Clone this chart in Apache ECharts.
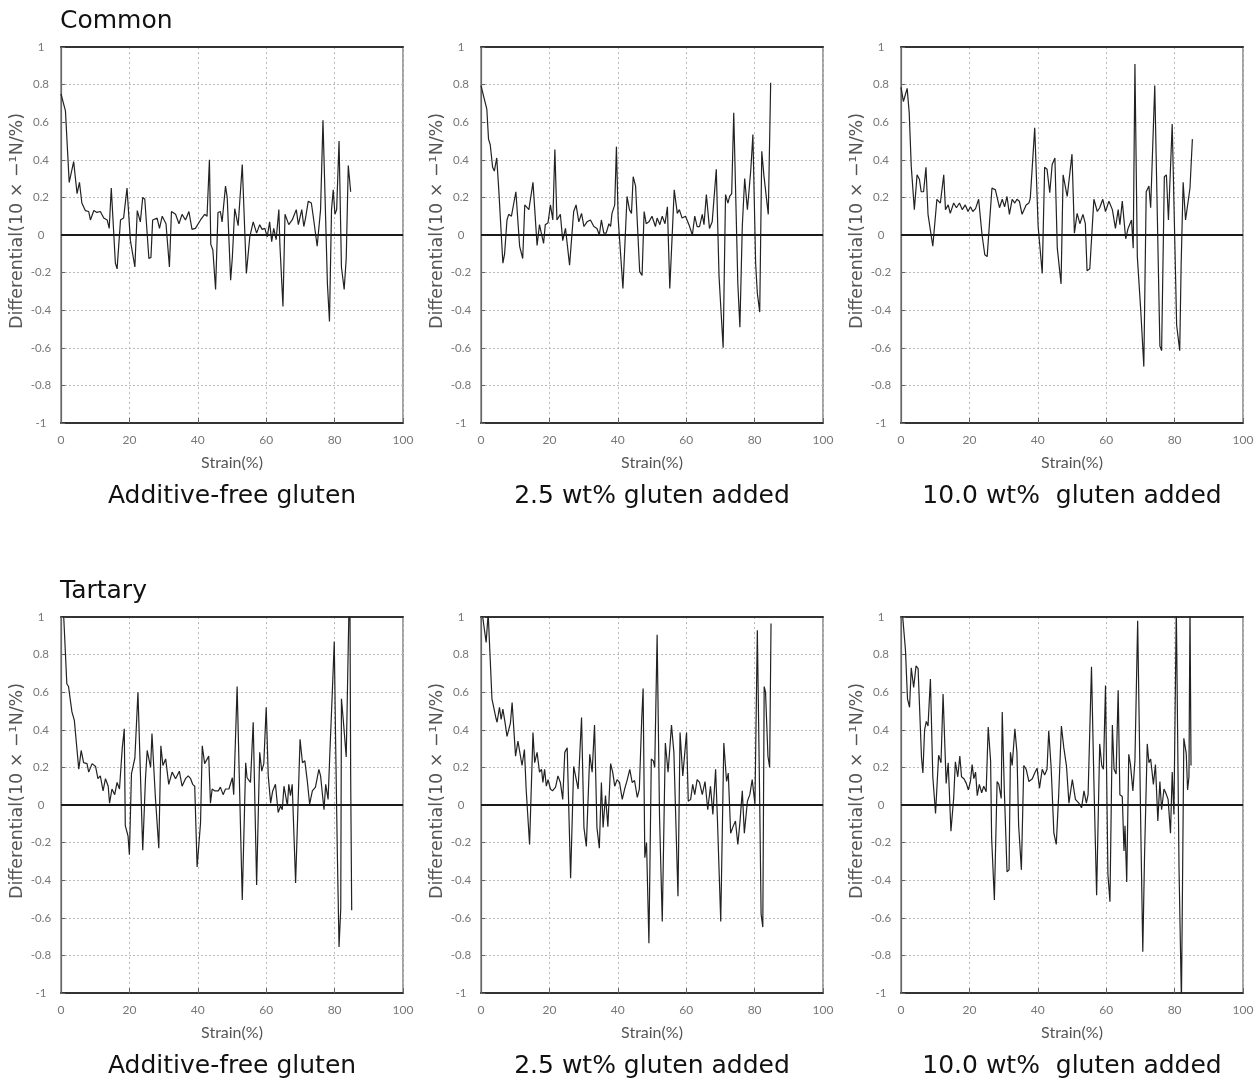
<!DOCTYPE html>
<html>
<head>
<meta charset="utf-8">
<script src="https://cdn.jsdelivr.net/npm/echarts@6/dist/echarts.min.js"></script>
<style>
html,body{margin:0;padding:0;background:#fff;}
#chart{width:1260px;height:1086px;}
</style>
</head>
<body>
<div id="chart"></div>
<script>
// ---- Data (strain %, differential) ----
const commonFree = [[0,0.75],[1.3,0.66],[2.4,0.28],[3.7,0.39],[4.0,0.39],[4.7,0.22],[5.4,0.28],[6.1,0.17],[7.1,0.13],[8.1,0.125],[8.6,0.08],[9.6,0.13],[10.5,0.12],[11.5,0.125],[12.5,0.09],[13.5,0.08],[14.1,0.035],[14.7,0.25],[15.9,-0.15],[16.4,-0.18],[17.4,0.08],[18.3,0.09],[19.3,0.25],[20.3,-0.03],[21.6,-0.17],[22.3,0.13],[23.2,0.07],[23.9,0.2],[24.5,0.19],[25.7,-0.125],[26.3,-0.12],[26.8,0.08],[28.1,0.09],[28.8,0.035],[29.6,0.1],[30.7,0.06],[31.7,-0.17],[32.3,0.125],[33.5,0.11],[34.5,0.06],[35.4,0.11],[36.4,0.08],[37.4,0.125],[38.3,0.03],[39.3,0.035],[40.8,0.08],[42.0,0.11],[42.7,0.1],[43.4,0.4],[43.8,-0.05],[44.4,-0.08],[45.2,-0.29],[45.9,0.12],[46.6,0.125],[47.1,0.07],[48.1,0.26],[48.6,0.2],[49.6,-0.24],[50.1,-0.12],[50.8,0.14],[51.8,0.05],[52.3,0.045],[53.0,0.375],[54.2,-0.205],[55.2,-0.01],[56.2,0.07],[57.2,0.01],[58.1,0.055],[58.8,0.03],[59.6,0.035],[60.3,-0.01],[61.0,0.07],[61.6,-0.035],[62.2,0.035],[62.9,-0.025],[63.7,0.135],[64.0,-0.05],[64.9,-0.38],[65.5,0.11],[66.6,0.055],[67.6,0.08],[68.1,0.09],[68.8,0.135],[69.4,0.055],[70.4,0.135],[71.0,0.045],[71.5,0.09],[72.3,0.18],[73.2,0.17],[73.9,0.08],[74.9,-0.06],[75.9,0.135],[76.6,0.61],[77.9,-0.26],[78.5,-0.46],[79.1,0.135],[79.6,0.24],[80.1,0.11],[80.6,0.135],[81.3,0.5],[82.0,-0.17],[82.8,-0.29],[83.4,-0.125],[84.0,0.37],[84.7,0.23]];

const common25 = [[0,0.795],[1.7,0.67],[2.2,0.51],[2.7,0.48],[3.4,0.36],[3.9,0.34],[4.6,0.41],[5.2,0.24],[6.4,-0.15],[6.9,-0.1],[7.6,0.08],[8.1,0.11],[8.9,0.1],[10.2,0.23],[11.3,-0.06],[12.2,-0.125],[12.8,0.16],[14.0,0.135],[15.2,0.28],[16.4,-0.055],[17.1,0.055],[18.3,-0.045],[18.8,0.055],[19.6,0.065],[20.3,0.16],[21.0,0.08],[21.6,0.455],[22.2,0.08],[23.2,0.11],[23.9,-0.03],[24.7,0.035],[25.9,-0.16],[27.1,0.125],[27.8,0.16],[28.6,0.07],[29.4,0.115],[30.1,0.045],[31.0,0.07],[32.0,0.08],[33.0,0.045],[33.9,0.035],[34.6,0.0],[35.2,0.08],[35.9,0.01],[36.6,0.01],[37.4,0.06],[37.9,0.045],[38.3,0.115],[39.1,0.16],[39.6,0.47],[40.1,0.09],[41.5,-0.285],[42.7,0.205],[43.4,0.135],[44.0,0.115],[44.5,0.31],[45.2,0.26],[46.4,-0.195],[47.1,-0.215],[47.7,0.125],[48.3,0.06],[49.1,0.07],[50.0,0.1],[51.0,0.045],[51.5,0.09],[52.3,0.055],[53.0,0.1],[53.8,0.06],[54.5,0.15],[55.2,-0.285],[56.5,0.24],[57.4,0.115],[58.0,0.135],[58.8,0.09],[59.8,0.1],[60.8,0.055],[61.8,0.0],[62.5,0.1],[63.2,0.045],[63.9,0.045],[64.7,0.11],[65.2,0.055],[65.9,0.215],[66.8,0.035],[67.6,0.07],[68.8,0.35],[69.6,-0.22],[70.1,-0.215],[70.8,-0.6],[71.5,0.215],[72.2,0.17],[72.7,0.205],[73.3,0.22],[73.9,0.65],[75.1,-0.26],[75.7,-0.49],[76.4,0.045],[77.1,0.3],[77.9,0.135],[78.4,0.125],[78.9,0.35],[79.5,0.535],[80.3,-0.15],[80.8,-0.31],[81.5,-0.41],[82.1,0.445],[82.7,0.32],[84.0,0.11],[84.7,0.81]];

const common100 = [[0,0.785],[0.7,0.71],[1.8,0.78],[2.4,0.65],[3.0,0.365],[3.9,0.135],[4.7,0.32],[5.4,0.295],[5.9,0.23],[6.6,0.23],[7.3,0.36],[7.9,0.11],[9.3,-0.06],[10.5,0.19],[11.5,0.17],[12.5,0.32],[13.0,0.135],[13.8,0.16],[14.4,0.115],[15.4,0.17],[16.2,0.145],[17.1,0.17],[17.9,0.135],[18.8,0.16],[19.6,0.125],[20.3,0.15],[21.0,0.125],[21.8,0.14],[22.7,0.19],[23.7,0.0],[24.5,-0.105],[25.2,-0.115],[25.9,0.07],[26.6,0.25],[27.6,0.24],[28.8,0.145],[29.6,0.19],[30.3,0.15],[31.0,0.205],[31.7,0.11],[32.5,0.19],[33.3,0.17],[33.9,0.19],[34.6,0.18],[35.4,0.11],[36.6,0.16],[37.4,0.17],[37.8,0.195],[39.1,0.57],[40.1,0.045],[41.3,-0.205],[42.0,0.36],[42.7,0.35],[43.5,0.225],[44.2,0.375],[45.0,0.41],[45.7,-0.07],[46.8,-0.26],[47.4,0.32],[48.6,0.205],[50.0,0.43],[50.7,0.01],[51.5,0.115],[52.3,0.06],[53.2,0.11],[53.9,0.06],[54.4,-0.19],[55.2,-0.18],[56.4,0.19],[57.4,0.125],[58.1,0.145],[59.0,0.19],[59.8,0.125],[60.8,0.18],[61.8,0.135],[62.7,0.035],[63.5,0.135],[64.0,0.055],[64.7,0.18],[65.7,-0.02],[66.4,0.035],[67.4,0.08],[67.9,-0.07],[68.4,0.91],[69.1,-0.115],[70.1,-0.4],[71.0,-0.7],[71.7,0.23],[72.5,0.26],[73.0,0.145],[74.2,0.795],[75.7,-0.59],[76.2,-0.615],[77.0,0.31],[77.6,0.32],[78.2,0.08],[78.6,0.07],[79.3,0.59],[80.6,-0.48],[81.5,-0.615],[81.9,-0.17],[82.5,0.28],[83.2,0.08],[84.5,0.25],[85.2,0.51]];

const tartaryFree = [[0.2,1.02],[0.8,1.0],[1.7,0.645],[2.2,0.63],[3.2,0.495],[3.9,0.45],[4.4,0.46],[5.2,0.19],[5.9,0.29],[6.6,0.225],[7.6,0.22],[8.1,0.175],[9.1,0.22],[10.1,0.205],[10.8,0.14],[11.5,0.155],[12.3,0.075],[13.0,0.14],[13.8,0.1],[14.2,0.01],[14.9,0.085],[15.7,0.055],[16.4,0.12],[17.1,0.085],[17.9,0.3],[18.5,0.405],[18.8,-0.11],[19.6,-0.165],[20.0,-0.265],[20.6,0.165],[21.6,0.25],[22.0,0.245],[22.5,0.6],[23.9,-0.24],[24.7,0.14],[25.2,0.29],[26.2,0.2],[26.6,0.38],[27.1,0.385],[27.6,0.04],[28.6,-0.23],[29.2,0.315],[29.8,0.21],[30.6,0.245],[31.5,0.11],[32.5,0.175],[33.5,0.14],[34.6,0.18],[35.4,0.1],[36.4,0.14],[37.2,0.155],[37.9,0.14],[38.5,0.11],[39.1,0.1],[39.8,-0.33],[40.8,-0.095],[41.3,0.315],[42.0,0.22],[42.5,0.21],[43.2,0.26],[43.7,0.01],[44.2,0.085],[45.0,0.075],[46.0,0.075],[46.6,0.095],[47.4,0.055],[48.1,0.085],[49.1,0.085],[50.1,0.145],[50.5,0.055],[51.5,0.63],[53.0,-0.505],[54.0,0.225],[54.4,0.145],[55.4,0.12],[56.2,0.44],[57.2,-0.425],[57.6,-0.415],[58.1,0.28],[58.7,0.18],[59.3,0.22],[60.0,0.52],[60.6,0.155],[61.3,0.01],[61.9,0.075],[62.7,0.11],[63.5,-0.04],[64.2,-0.005],[64.7,-0.025],[65.2,0.1],[65.7,0.095],[66.2,-0.005],[66.6,0.11],[67.1,0.05],[67.6,0.11],[68.6,-0.415],[69.9,0.35],[70.6,0.225],[71.3,0.235],[72.0,0.13],[72.7,0.005],[73.5,0.075],[74.4,0.095],[75.4,0.19],[75.9,0.155],[76.9,-0.025],[77.4,0.11],[78.1,0.03],[78.6,0.27],[79.3,0.585],[79.9,0.87],[80.3,0.335],[80.8,-0.255],[81.3,-0.755],[81.8,-0.55],[82.0,0.565],[82.5,0.46],[83.4,0.255],[84.2,1.05],[84.5,1.02],[84.7,0.155],[85.0,-0.56]];

const tartary25 = [[0,1.02],[0.5,1.0],[1.5,0.865],[2.1,1.02],[3.2,0.565],[3.7,0.555],[4.4,0.46],[4.7,0.44],[5.4,0.52],[5.9,0.455],[6.4,0.51],[7.1,0.43],[7.6,0.365],[8.6,0.435],[9.1,0.545],[10.1,0.26],[10.8,0.34],[11.3,0.34],[12.0,0.21],[12.7,0.295],[13.2,0.085],[14.2,-0.21],[15.2,0.385],[15.7,0.225],[16.4,0.28],[17.1,0.175],[17.7,0.19],[18.1,0.12],[18.6,0.19],[19.1,0.1],[19.6,0.135],[20.3,0.085],[20.9,0.075],[21.8,0.095],[22.5,0.155],[23.2,0.12],[23.9,0.03],[24.5,0.28],[25.2,0.305],[26.2,-0.39],[27.1,0.205],[27.6,0.195],[28.4,0.085],[29.4,0.465],[30.1,-0.12],[30.8,-0.22],[31.2,-0.215],[31.8,0.27],[32.5,0.175],[33.2,0.425],[33.9,-0.12],[34.6,-0.23],[35.2,0.12],[35.7,-0.12],[36.4,0.05],[37.1,-0.115],[37.9,0.22],[38.5,0.175],[39.1,0.1],[39.8,0.135],[40.5,0.12],[41.3,0.03],[42.0,0.085],[42.7,0.13],[43.5,0.19],[44.2,0.12],[44.9,0.13],[45.7,0.04],[46.3,0.085],[47.0,0.46],[47.4,0.62],[47.9,-0.28],[48.4,-0.2],[49.1,-0.735],[49.8,0.245],[50.4,0.235],[50.8,0.2],[51.5,0.905],[52.2,-0.06],[53.0,-0.62],[53.9,0.33],[54.7,0.175],[55.7,0.425],[56.4,0.28],[57.6,-0.485],[58.2,0.385],[59.0,0.155],[60.1,0.385],[60.6,0.02],[61.3,0.03],[61.9,0.11],[62.5,0.055],[63.2,0.135],[63.9,0.12],[64.7,0.055],[65.5,0.125],[66.3,-0.025],[67.1,0.1],[67.8,-0.05],[68.6,0.19],[69.1,-0.06],[70.1,-0.62],[71.0,0.33],[71.8,0.125],[72.3,0.17],[73.0,-0.15],[73.7,-0.115],[74.4,-0.085],[75.1,-0.21],[75.7,-0.095],[76.4,0.075],[77.0,-0.15],[77.9,0.02],[78.6,0.055],[79.3,0.135],[80.1,0.005],[80.8,0.93],[81.5,0.01],[81.9,-0.58],[82.4,-0.65],[82.8,0.63],[83.2,0.6],[83.9,0.26],[84.4,0.2],[84.8,0.965]];

const tartary100 = [[0,1.02],[0.5,1.0],[1.3,0.825],[1.9,0.565],[2.5,0.52],[3.0,0.73],[3.7,0.625],[4.4,0.74],[5.0,0.725],[6.0,0.25],[6.4,0.17],[6.9,0.4],[7.4,0.445],[7.9,0.42],[8.6,0.67],[9.3,0.15],[10.1,-0.045],[10.5,-0.055],[11.0,0.265],[11.7,0.225],[12.3,0.59],[13.2,0.115],[13.8,0.225],[14.6,-0.14],[15.4,0.035],[15.9,0.23],[16.6,0.15],[17.2,0.26],[17.7,0.15],[18.4,0.14],[19.1,0.115],[19.7,0.08],[20.3,0.125],[20.8,0.215],[21.3,0.14],[21.8,0.175],[22.3,0.05],[22.9,0.11],[23.6,0.065],[24.2,0.1],[24.9,0.07],[25.5,0.415],[26.2,0.235],[26.5,-0.175],[27.3,-0.505],[28.1,0.125],[28.6,0.11],[29.3,0.035],[29.6,0.495],[30.2,0.085],[31.0,-0.355],[31.6,-0.345],[32.0,0.28],[32.5,0.21],[33.3,0.405],[33.9,0.28],[34.4,-0.11],[35.2,-0.345],[35.9,0.21],[36.6,0.19],[37.4,0.125],[38.4,0.14],[39.1,0.17],[39.8,0.195],[40.5,0.09],[41.3,0.19],[42.0,0.16],[42.7,0.19],[43.2,0.395],[43.9,0.2],[44.7,-0.15],[45.4,-0.21],[46.1,0.05],[46.9,0.42],[47.6,0.305],[48.4,0.205],[49.1,0.01],[50.1,0.135],[51.0,0.03],[52.0,0.01],[52.8,-0.015],[53.5,0.075],[54.2,0.01],[54.7,0.055],[55.7,0.735],[56.4,0.125],[57.2,-0.48],[58.1,0.325],[58.7,0.21],[59.2,0.19],[59.8,0.635],[60.5,-0.37],[61.1,-0.515],[61.8,0.425],[62.3,0.19],[62.9,0.165],[63.5,0.61],[64.0,0.055],[64.7,0.045],[65.2,-0.245],[65.5,-0.11],[66.0,-0.41],[66.6,0.27],[67.1,0.215],[67.8,0.075],[68.4,0.235],[69.2,0.98],[70.1,-0.11],[70.7,-0.78],[71.2,-0.28],[72.0,0.325],[72.5,0.225],[73.0,0.245],[73.8,0.11],[74.4,0.215],[75.1,-0.085],[75.7,0.125],[76.2,-0.025],[76.9,0.085],[77.4,0.065],[78.1,0.03],[78.8,-0.15],[79.3,0.175],[79.8,-0.05],[80.5,1.05],[80.9,1.05],[81.3,-0.345],[82.0,-1.05],[82.2,-1.05],[82.7,0.355],[83.4,0.275],[83.8,0.08],[84.2,0.15],[84.5,1.05],[84.8,0.21]];

const rowTitles = ['Common', 'Tartary'];
const captions = ['Additive-free gluten', '2.5 wt% gluten added', '10.0 wt%  gluten added'];
const seriesData = [commonFree, common25, common100, tartaryFree, tartary25, tartary100];
const xTicks = [0, 20, 40, 60, 80, 100];
const yMin = -1, yMax = 1, yStep = 0.2;
const xAxisName = 'Strain(%)';
const yAxisName = 'Differential(10 × −¹N/%)';

// ---- Layout ----
const lefts = [61, 481, 901];
const tops = [47, 617];
const W = 342, H = 376;
const FONT = 'Lato, "Noto Sans", "DejaVu Sans", sans-serif';
const BIG = '"DejaVu Sans", Lato, sans-serif';

const grids = [], xAxes = [], yAxes = [], series = [], graphics = [];
let k = 0;
for (let r = 0; r < 2; r++) {
  for (let c = 0; c < 3; c++) {
    grids.push({left: lefts[c], top: tops[r], width: W, height: H,
      show: true, borderColor: '#666', borderWidth: 1.2, backgroundColor: '#fff'});
    const gi = k;
    xAxes.push({
      gridIndex: gi, type: 'value', min: xTicks[0], max: xTicks[xTicks.length - 1], interval: 20,
      position: 'bottom',
      name: xAxisName, nameLocation: 'middle', nameGap: 32,
      nameTextStyle: {fontFamily: FONT, fontSize: 16, color: '#555'},
      axisLine: {show: true, onZero: false, lineStyle: {color: '#333', width: 2}},
      axisTick: {show: true, inside: true, length: 5, lineStyle: {color: '#666'}},
      axisLabel: {color: '#777', fontSize: 12, fontFamily: FONT, margin: 11},
      splitLine: {show: true, lineStyle: {type: [2, 3], color: '#bbb', width: 1}}
    });
    xAxes.push({
      gridIndex: gi, type: 'value', min: 0, max: 100, interval: 20, position: 'top',
      axisLine: {show: true, onZero: false, lineStyle: {color: '#333', width: 2}},
      axisTick: {show: false}, axisLabel: {show: false}, splitLine: {show: false}
    });
    yAxes.push({
      gridIndex: gi, type: 'value', min: yMin, max: yMax, interval: yStep,
      name: yAxisName, nameLocation: 'middle', nameGap: 32,
      nameTextStyle: {fontFamily: BIG, fontSize: 17.5, color: '#555', padding: [0, 0, 0, 28]},
      axisLine: {show: true, lineStyle: {color: '#666', width: 1.2}},
      axisTick: {show: true, inside: true, length: 4, lineStyle: {color: '#666'}},
      axisLabel: {color: '#777', fontSize: 11.5, fontFamily: FONT, align: 'center', margin: 20,
        formatter: v => String(+v.toFixed(1))},
      splitLine: {show: true, lineStyle: {type: [2, 2], color: '#bbb', width: 1}}
    });
    series.push({
      type: 'line', xAxisIndex: 2 * gi, yAxisIndex: gi, data: seriesData[gi],
      showSymbol: false, symbol: 'none', clip: true, animation: false,
      lineStyle: {color: '#222', width: 1.2},
      markLine: {silent: true, symbol: 'none', label: {show: false}, animation: false,
        lineStyle: {color: '#1a1a1a', width: 2, type: 'solid'}, data: [{yAxis: 0}]}
    });
    graphics.push({type: 'text', x: lefts[c] + W / 2, y: tops[r] + H + 61,
      style: {text: captions[c], font: '25px ' + BIG, fill: '#111', textAlign: 'center'}});
    k++;
  }
  graphics.push({type: 'text', x: 60, y: tops[r] - 38,
    style: {text: rowTitles[r], font: '25px ' + BIG, fill: '#111'}});
}

const chart = echarts.init(document.getElementById('chart'), null, {renderer: 'canvas'});
chart.setOption({
  animation: false,
  backgroundColor: '#fff',
  grid: grids, xAxis: xAxes, yAxis: yAxes, series: series,
  graphic: graphics
});
</script>
</body>
</html>
